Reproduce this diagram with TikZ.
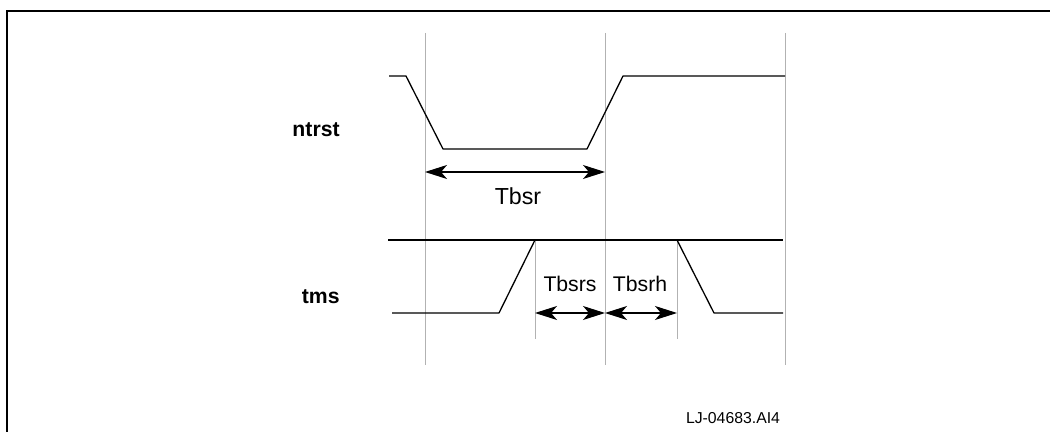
\documentclass[tikz,border=0pt]{standalone}
\usepackage{fontspec}
\setmainfont{Liberation Sans}
\usetikzlibrary{arrows.meta}
\begin{document}
\begin{tikzpicture}[x=0.5pt,y=-0.5pt,
  guide/.style={draw=black!30,line width=0.5pt},
  signal/.style={draw=black,line width=0.65pt,line join=round},
  frameline/.style={draw=black,line width=1.1pt},
  dim/.style={draw=black,line width=0.6pt,{Stealth[length=11pt,width=7pt,inset=3pt]}-{Stealth[length=11pt,width=7pt,inset=3pt]}},
  siglabel/.style={font=\fontsize{10.6}{12}\selectfont\bfseries,anchor=east,inner sep=0pt},
  dimlabel/.style={font=\fontsize{10.6}{12}\selectfont,inner sep=0pt},
  idlabel/.style={font=\fontsize{7.9}{9}\selectfont,inner sep=0pt}]
\useasboundingbox (0,0) rectangle (1050,432);
% frame (top and left only)
\draw[frameline] (1050,11) -- (7,11) -- (7,432);
% guide lines
\coordinate (g1t) at (425,33); \coordinate (g1b) at (425,365);
\coordinate (g2t) at (605,33); \coordinate (g2b) at (605,365);
\coordinate (g3t) at (785,33); \coordinate (g3b) at (785,365);
\coordinate (g4t) at (535,240); \coordinate (g4b) at (535,339);
\coordinate (g5t) at (677,240); \coordinate (g5b) at (677,339);
\draw[guide] (g1t) -- (g1b);
\draw[guide] (g2t) -- (g2b);
\draw[guide] (g3t) -- (g3b);
\draw[guide] (g4t) -- (g4b);
\draw[guide] (g5t) -- (g5b);
% ntrst signal
\coordinate (n0) at (389,76);
\coordinate (n1) at (406,76);
\coordinate (n2) at (443,149);
\coordinate (n3) at (587,149);
\coordinate (n4) at (623,76);
\coordinate (n5) at (785,76);
\draw[signal] (n0) -- (n1) -- (n2) -- (n3) -- (n4) -- (n5);
% tms signal
\coordinate (h0) at (388,240);
\coordinate (h1) at (783,240);
\draw[signal] (h0) -- (h1);
\coordinate (t0) at (392,313);
\coordinate (t1) at (499,313);
\coordinate (t2) at (535,240);
\coordinate (t3) at (677,240);
\coordinate (t4) at (714,313);
\coordinate (t5) at (783,313);
\draw[signal] (t0) -- (t1) -- (t2) -- (t3) -- (t4) -- (t5);
% labels
\node[siglabel] (lntrst) at (340,130) {ntrst};
\node[siglabel] (ltms) at (340,297) {tms};
% dimensions
\coordinate (a1) at (425,172); \coordinate (a2) at (605,172);
\draw[dim] (a1) -- (a2);
\node[dimlabel,font=\fontsize{11.6}{13}\selectfont] (ltbsr) at (518,196) {Tbsr};
\coordinate (b1) at (535,313); \coordinate (b2) at (605,313); \coordinate (b3) at (677,313);
\draw[dim] (b1) -- (b2);
\draw[dim] (b2) -- (b3);
\node[dimlabel] (ltbsrs) at (570,284) {Tbsrs};
\node[dimlabel] (ltbsrh) at (640,284) {Tbsrh};
\node[idlabel] (lid) at (733,418) {LJ-04683.AI4};
\end{tikzpicture}
\end{document}
